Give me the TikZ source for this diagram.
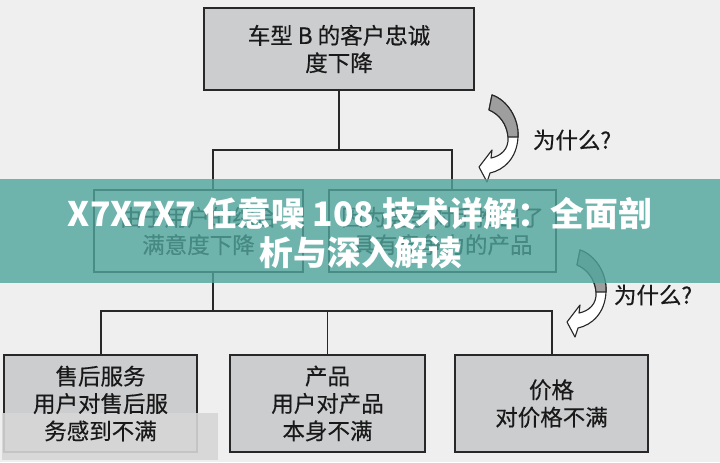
\documentclass[tikz,border=0pt]{standalone}
\usepackage{fontspec}
\setmainfont{Noto Sans CJK SC}
\newfontfamily\boxfont{Noto Sans CJK SC}[FakeBold=0.4]
\definecolor{pageGrey}{RGB}{239,239,239}
\definecolor{boxGrey}{RGB}{204,205,206}
\definecolor{arrowGrey}{RGB}{158,158,158}
\definecolor{lineBlack}{RGB}{40,40,40}
\definecolor{bannerTeal}{RGB}{80,165,157}
\definecolor{patchGrey}{RGB}{214,214,214}
\tikzset{
  causebox/.style={draw=lineBlack, line width=1.3pt, fill=boxGrey, align=center, text=black!90, inner sep=0pt, font=\boxfont\fontsize{16}{19.5}\selectfont},
  openbox/.style={causebox, fill=pageGrey},
  link/.style={lineBlack, line width=1pt},
  whylabel/.style={anchor=west, text=black!90, font=\boxfont\fontsize{16}{19.5}\selectfont},
  bannertext/.style={text=white, font=\fontsize{24}{28}\selectfont\bfseries}
}

\begin{document}
\begin{tikzpicture}[x=0.025cm, y=-0.025cm]
	\fill[pageGrey] (0,0) rectangle (720,462);
	\useasboundingbox (0,0) rectangle (720,462);
	% boxes
	\node[causebox, minimum width=6.75cm, minimum height=2.05cm] (loyalty) at (339,49) {车型 B 的客户忠诚\\度下降};
	\node[openbox, minimum width=5.225cm, minimum height=2.05cm] (satisfy) at (198.5,231) {由于用户的综合\\满意度下降};
	\node[openbox, minimum width=5.675cm, minimum height=2.05cm] (rival) at (442.5,231) {因为竞争对手推出了\\具有竞争力的产品};
	\node[causebox, minimum width=4.825cm, minimum height=2.425cm] (service) at (100.5,403.5) {};
	\node[causebox, minimum width=4.875cm, minimum height=2.425cm] (product) at (327.5,403.5) {产品\\用户对产品\\本身不满};
	\node[causebox, minimum width=4.825cm, minimum height=2.425cm] (price) at (551.5,403.5) {价格\\对价格不满};
	% connectors
	\coordinate (splitL) at (213,150);
	\coordinate (splitR) at (452,150);
	\draw[link] (loyalty.south) -- (loyalty.south |- splitL);
	\draw[link] (splitL |- satisfy.north) -- (splitL) -- (splitR) -- (splitR |- rival.north);
	\coordinate (joinM) at (213,311);
	\coordinate (joinL) at (101,311);
	\coordinate (joinR) at (552,311);
	\draw[link] (joinM |- satisfy.south) -- (joinM);
	\draw[link] (joinL |- service.north) -- (joinL) -- (joinR) -- (joinR |- price.north);
	\draw[link] (product.north) -- (product.north |- joinL);
	% why arrows
	\foreach \dx/\dy in {0/0, 88/155}{
	  \begin{scope}[shift={(\dx,\dy)}]
	    \draw[lineBlack, line width=0.8pt, fill=white, line join=round]
	      (492,95) .. controls (507,100) and (519,118) .. (518,137)
	      .. controls (517,158) and (504,170) .. (490,173)
	      -- (487,182) -- (479,167) -- (492,150) -- (491,158)
	      .. controls (501,156) and (509,149) .. (508,137)
	      .. controls (507,124) and (499,114) .. (489,110) -- cycle;
	    \draw[lineBlack, line width=0.8pt, fill=arrowGrey, line join=round]
	      (492,95) .. controls (507,100) and (519,118) .. (518,137)
	      -- (508,137) .. controls (507,124) and (499,114) .. (489,110) -- cycle;
	  \end{scope}
	}
	\node[whylabel] (why1) at (528,140) {为什么?};
	\node[whylabel] (why2) at (609,295) {为什么?};
	% title banner
	\fill[bannerTeal, opacity=0.8] (0,179) rectangle (720,283);
	\node[bannertext] (title1) at (360,213) {X7X7X7 任意噪 108 技术详解：全面剖};
	\node[bannertext] (title2) at (361,253) {析与深入解读};
	% watermark patch, text of the first cause on top
	\fill[patchGrey, opacity=0.9] (2,413) rectangle (218,460);
	\node[causebox, draw=none, fill=none] (serviceText) at (service) {售后服务\\用户对售后服\\务感到不满};
\end{tikzpicture}
\end{document}
